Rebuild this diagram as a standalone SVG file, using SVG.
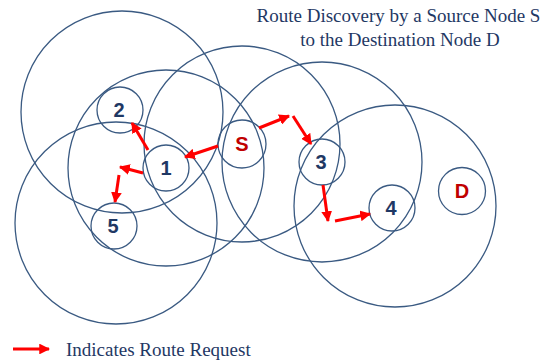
<svg xmlns="http://www.w3.org/2000/svg" width="543" height="362" viewBox="0 0 543 362">
  <defs>
    <style>
      .range { fill: none; stroke: #3a5a82; stroke-width: 1.3; }
      .node circle { fill: none; stroke: #3a5a82; stroke-width: 1.3; }
      .node text { font-family: "Liberation Sans", Arial, sans-serif; font-weight: bold; font-size: 20px; fill: #1f3864; text-anchor: middle; dominant-baseline: central; }
      .node text.red { fill: #c00000; }
      .req { stroke: #ff0000; stroke-width: 3; fill: none; marker-end: url(#head); }
      .caption { font-family: "Liberation Serif", "Times New Roman", serif; font-size: 19px; fill: #1f3864; }
    </style>
    <marker id="head" viewBox="0 0 10 10" refX="9" refY="5" markerWidth="3.6" markerHeight="3.6" orient="auto" markerUnits="strokeWidth">
      <path d="M0,0 L10,5 L0,10 Z" fill="#ff0000"/>
    </marker>
  </defs>

  <rect width="543" height="362" fill="#ffffff"/>

  <!-- transmission ranges -->
  <g id="ranges">
    <circle class="range" cx="122" cy="112" r="101"/>
    <circle class="range" cx="166" cy="168" r="98"/>
    <circle class="range" cx="116" cy="223" r="101"/>
    <circle class="range" cx="242" cy="144" r="98"/>
    <circle class="range" cx="322" cy="162" r="100"/>
    <circle class="range" cx="395" cy="206" r="101"/>
  </g>

  <!-- nodes -->
  <g id="node-2" class="node"><circle cx="120" cy="110" r="23"/><text x="119" y="110">2</text></g>
  <g id="node-1" class="node"><circle cx="166" cy="168" r="23"/><text x="166" y="168">1</text></g>
  <g id="node-5" class="node"><circle cx="114" cy="226" r="23"/><text x="113" y="226">5</text></g>
  <g id="node-S" class="node"><circle cx="242" cy="144" r="24"/><text class="red" x="242" y="144">S</text></g>
  <g id="node-3" class="node"><circle cx="322" cy="162" r="23"/><text x="321" y="162">3</text></g>
  <g id="node-4" class="node"><circle cx="392" cy="208" r="23"/><text x="391" y="208">4</text></g>
  <g id="node-D" class="node"><circle cx="462" cy="191" r="23.5"/><text class="red" x="462" y="191">D</text></g>

  <!-- route request hops -->
  <g id="connectors">
    <line class="req" x1="218" y1="146" x2="185" y2="157"/>
    <line class="req" x1="148" y1="150" x2="132" y2="123"/>
    <line class="req" x1="143" y1="173" x2="120" y2="167"/>
    <line class="req" x1="119" y1="175" x2="115" y2="202"/>
    <line class="req" x1="259" y1="128" x2="289" y2="116"/>
    <line class="req" x1="293" y1="116" x2="311" y2="144"/>
    <line class="req" x1="323" y1="185" x2="328" y2="221"/>
    <line class="req" x1="335" y1="221" x2="370" y2="214"/>
  </g>

  <!-- title -->
  <g id="title">
    <text class="caption" x="398.5" y="22" text-anchor="middle">Route Discovery by a Source Node S</text>
    <text class="caption" x="400" y="46" text-anchor="middle">to the Destination Node D</text>
  </g>

  <!-- legend -->
  <g id="legend">
    <line class="req" x1="13" y1="349" x2="49" y2="349"/>
    <text class="caption" x="66" y="356">Indicates Route Request</text>
  </g>
</svg>
